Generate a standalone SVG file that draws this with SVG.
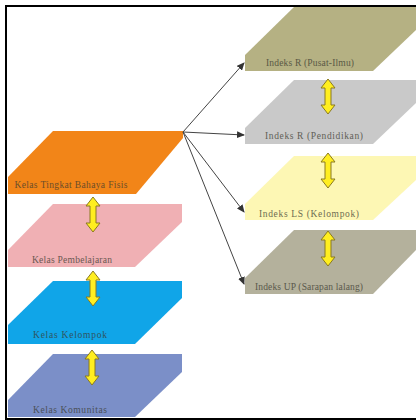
<svg xmlns="http://www.w3.org/2000/svg" width="416" height="420" viewBox="0 0 416 420">
<style>
.l{font-family:"Liberation Serif",serif;font-size:9.5px;fill:#3a3a30;text-anchor:middle;opacity:.75}
.c{stroke:#444;stroke-width:1;fill:none;marker-end:url(#a)}
.d{fill:#ffee20;stroke:#8a7a20;stroke-width:1}
</style>
<defs>
<marker id="a" markerWidth="8" markerHeight="7" refX="7" refY="3.5" orient="auto" markerUnits="userSpaceOnUse"><path d="M0 0L8 3.5L0 7z" fill="#333"/></marker>
<path id="v" d="M0 0L7 9H3V26L7 26L0 35L-7 26H-3V9H-7z"/>
</defs>
<rect width="416" height="420" fill="#fff"/>
<g id="n1"><path d="M53 131H183V138L136 194H8V177z" fill="#f28518"/><text class="l" x="71" y="188" textLength="113">Kelas Tingkat Bahaya Fisis</text></g>
<g id="n2"><path d="M53 204H182V222L135 267H8V250z" fill="#f0b0b4"/><text class="l" x="72" y="263" textLength="80">Kelas Pembelajaran</text></g>
<g id="n3"><path d="M53 281H182V298L135 344H8V325z" fill="#10a5e8"/><text class="l" x="70" y="338" textLength="74">Kelas Kelompok</text></g>
<g id="n4"><path d="M53 354H182V372L135 417H8V400z" fill="#7b8fc8"/><text class="l" x="70" y="413" textLength="74">Kelas Komunitas</text></g>
<g id="n5"><path d="M294 7H416V30L373 71H245V55z" fill="#b5b183"/><text class="l" x="310" y="66" textLength="88">Indeks R (Pusat-Ilmu)</text></g>
<g id="n6"><path d="M294 80H416V103L373 144H245V128z" fill="#c9c9c9"/><text class="l" x="314" y="139" textLength="98">Indeks R (Pendidikan)</text></g>
<g id="n7"><path d="M294 156H416V180L373 220H245V204z" fill="#fdf7b4"/><text class="l" x="309" y="217" textLength="100">Indeks LS (Kelompok)</text></g>
<g id="n8"><path d="M294 230H416V250L373 294H245V278z" fill="#b4b19c"/><text class="l" x="309" y="290" textLength="108">Indeks UP (Sarapan lalang)</text></g>
<g id="connectors">
<path class="c" d="M183 132L244 63"/>
<path class="c" d="M183 132L244 135"/>
<path class="c" d="M183 132L244 212"/>
<path class="c" d="M183 132L244 284"/>
<use class="d" href="#v" x="93" y="197"/>
<use class="d" href="#v" x="93" y="271"/>
<use class="d" href="#v" x="92" y="350"/>
<use class="d" href="#v" x="328" y="79"/>
<use class="d" href="#v" x="328" y="153"/>
<use class="d" href="#v" x="328" y="231"/>
</g>
<path id="frame" d="M6 420V6H416M6 419H416" fill="none" stroke="#000" stroke-width="2"/>
</svg>
